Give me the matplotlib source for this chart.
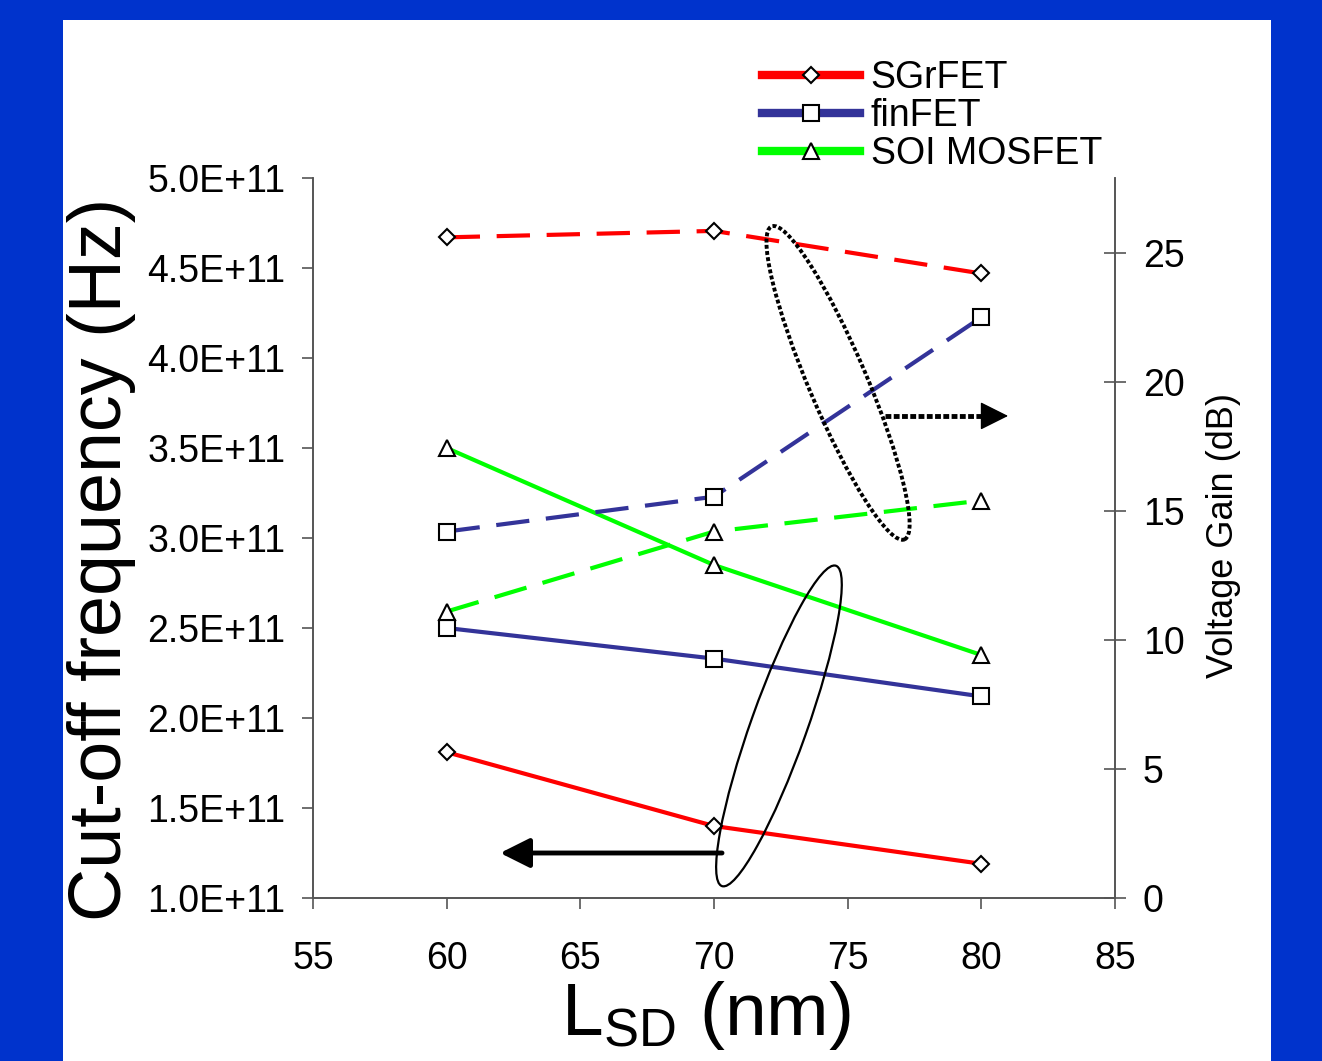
import numpy as np
import matplotlib
matplotlib.use("Agg")
import matplotlib.pyplot as plt
from matplotlib.patches import Ellipse, Rectangle
from matplotlib.lines import Line2D
from matplotlib.ticker import FuncFormatter
from matplotlib.transforms import IdentityTransform

plt.rcParams['font.family'] = ['Liberation Sans', 'DejaVu Sans']
plt.rcParams['mathtext.fontset'] = 'custom'
plt.rcParams['mathtext.rm'] = 'Liberation Sans'
plt.rcParams['mathtext.it'] = 'Liberation Sans'

# data
lsd = [60, 70, 80]
devices = ['SGrFET', 'finFET', 'SOI MOSFET']
fcut = {  # cut-off frequency (Hz), left axis, solid lines
    'SGrFET': [1.81e11, 1.40e11, 1.19e11],
    'finFET': [2.50e11, 2.33e11, 2.12e11],
    'SOI MOSFET': [3.50e11, 2.85e11, 2.35e11],
}
gain = {  # voltage gain (dB), right axis, dashed lines
    'SGrFET': [25.6, 25.85, 24.2],
    'finFET': [14.2, 15.55, 22.5],
    'SOI MOSFET': [11.1, 14.2, 15.4],
}
colors = {'SGrFET': '#ff0000', 'finFET': '#333399', 'SOI MOSFET': '#00ff00'}
markers = {'SGrFET': 'D', 'finFET': 's', 'SOI MOSFET': '^'}
msizes = {'SGrFET': 8, 'finFET': 11, 'SOI MOSFET': 12}

fig = plt.figure(figsize=(13.22, 10.61), dpi=100)
fig.patch.set_facecolor('#0033cc')
fig.add_artist(Rectangle((63 / 1322, 0), (1271 - 63) / 1322, 1 - 20 / 1061,
                         transform=fig.transFigure, facecolor='white',
                         edgecolor='none', zorder=0))
fig.subplots_adjust(left=313 / 1322, right=1115 / 1322,
                    top=1 - 178 / 1061, bottom=1 - 898 / 1061)
ax = fig.add_subplot(111)
ax.set_facecolor('none')
ax2 = ax.twinx()

for d in devices:
    ax.plot(lsd, fcut[d], color=colors[d], lw=3, zorder=2)
    ax.plot(lsd, fcut[d], ls='none', marker=markers[d], ms=msizes[d],
            mfc='white', mec='black', mew=1.5, zorder=3)
    ax2.plot(lsd, gain[d], color=colors[d], lw=3, dashes=(8, 4), zorder=2)
    ax2.plot(lsd, gain[d], ls='none', marker=markers[d], ms=msizes[d],
             mfc='white', mec='black', mew=1.5, zorder=3)

ax.set_xlim(55, 85)
ax.set_ylim(1.0e11, 5.0e11)
ax2.set_ylim(0, 27.9)
ax.set_xticks(np.arange(55, 86, 5))
ax.set_yticks(np.arange(1.0e11, 5.01e11, 0.5e11))
ax2.set_yticks(np.arange(0, 26, 5))
ax.yaxis.set_major_formatter(FuncFormatter(lambda v, p: f"{v:.1E}"))

spine_col = '#555555'
for a in (ax, ax2):
    a.spines['top'].set_visible(False)
    for s in a.spines.values():
        s.set_color(spine_col)
        s.set_linewidth(1.2)
ax.tick_params(axis='both', labelsize=27, length=8, width=1.2, color=spine_col, pad=12)
ax.tick_params(axis='x', pad=23)
ax2.tick_params(axis='y', labelsize=27, length=16, width=1.2, color=spine_col,
                direction='inout', pad=12)

ax.set_ylabel('Cut-off frequency (Hz)', fontsize=53)
ax.yaxis.set_label_coords(-0.221, 0.47)
ax2.set_ylabel('Voltage Gain (dB)', fontsize=26)
ax2.set_ylabel('Voltage Gain (dB)', fontsize=26)
ax2.yaxis.set_label_coords(1.114, 0.504)
ax.set_xlabel(r'L$_{\mathrm{SD}}$ (nm)', fontsize=54)
ax.xaxis.set_label_coords(0.49, -0.112)

# arrows
ax.annotate('', xy=(62.0, 1.25e11), xytext=(70.3, 1.25e11),
            arrowprops=dict(arrowstyle='-|>,head_length=0.9,head_width=0.45',
                            mutation_scale=20, lw=3.5, color='black',
                            shrinkA=0, shrinkB=0))
ax2.plot([76.4, 80.2], [18.68, 18.68], color='black', lw=3.5,
         ls=(0, (1.2, 0.5)), zorder=4)
ax2.annotate('', xy=(81.0, 18.68), xytext=(80.0, 18.68),
             arrowprops=dict(arrowstyle='-|>,head_length=0.9,head_width=0.45',
                             mutation_scale=20, lw=1, color='black',
                             shrinkA=0, shrinkB=0))

# ellipses (pixel sized, centred on data positions)
c_up = ax2.transData.transform((74.64, 19.96))
c_lo = ax.transData.transform((72.43, 1.956e11))
fig.add_artist(Ellipse(c_up, 58, 340, angle=23, transform=IdentityTransform(),
                       fill=False, ec='black', lw=2.8, ls=(0, (1, 0.6)), zorder=5))
fig.add_artist(Ellipse(c_lo, 56, 340, angle=-19.6, transform=IdentityTransform(),
                       fill=False, ec='black', lw=1.6, zorder=5))

handles = [Line2D([], [], color=colors[d], lw=6, marker=markers[d], ms=msizes[d],
                  mfc='white', mec='black', mew=1.5) for d in devices]
fig.legend(handles, devices, loc='upper left', bbox_to_anchor=(0.5764, 0.943),
           frameon=False, fontsize=27, handlelength=2.6, handletextpad=0.3,
           labelspacing=0.05, borderpad=0, borderaxespad=0)

fig.savefig('out.png', dpi=100, facecolor=fig.get_facecolor())
